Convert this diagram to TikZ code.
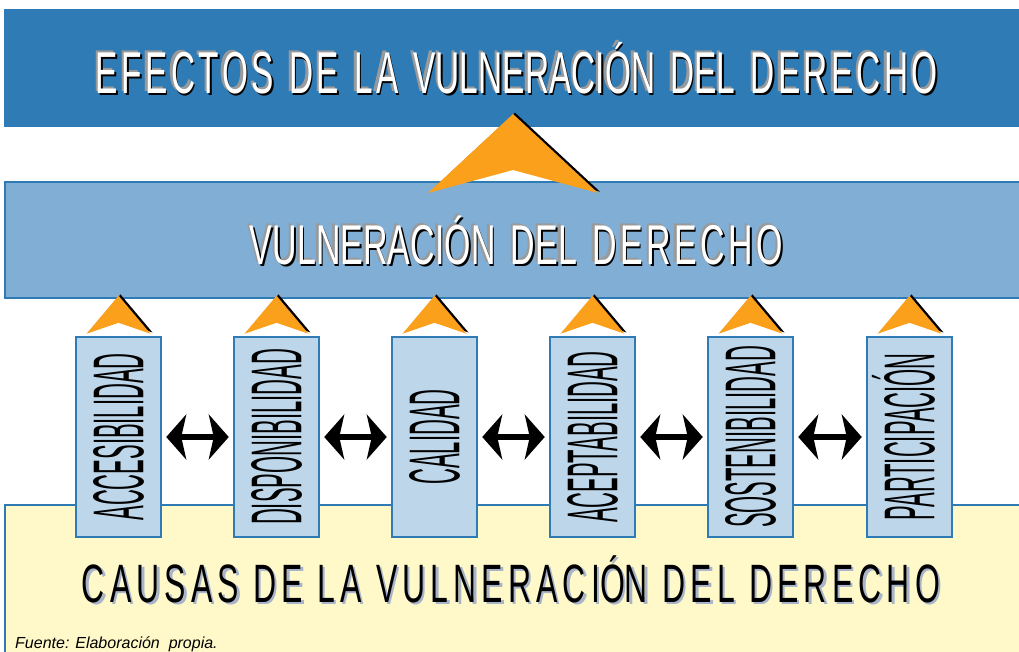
\documentclass[tikz,border=0pt]{standalone}
\usepackage{fontspec}
\usepackage{graphicx}
\setmainfont{Liberation Sans}
\usetikzlibrary{arrows.meta,calc}
\definecolor{darkband}{HTML}{2E7BB6}
\definecolor{midband}{HTML}{80AED4}
\definecolor{boxfill}{HTML}{BDD6EA}
\definecolor{causefill}{HTML}{FFF9C9}
\definecolor{chev}{HTML}{FBA01A}
\definecolor{causeshadow}{HTML}{A8B4CA}
\definecolor{titleshadow}{HTML}{9A9A9A}
\newcommand\ls{\hspace{0.1em}}
\newcommand\ws{\hspace{0.45em}}
\newcommand\efectostext{\resizebox{842pt}{\height}{\fontsize{59}{59}\selectfont E\ls F\ls E\ls C\ls T\ls O\ls S\ws D\ls E\ws L\ls A\ws VULNERACI\smash{Ó}N\ws DEL\ws D\ls E\ls R\ls E\ls C\ls H\ls O}}
\newcommand\vulntext{\resizebox{533pt}{\height}{\fontsize{56}{56}\selectfont VULNERACI\smash{Ó}N\ws DEL\ws D\ls E\ls R\ls E\ls C\ls H\ls O}}
\newcommand\causastext{\resizebox{858pt}{\height}{\fontsize{54}{54}\selectfont\addfontfeature{LetterSpace=16}CAUSAS\ws DE\ws LA\ws VULNERACI\smash{Ó}N\ws DEL\ws DERECHO}}
\newcommand\ptext[1]{\scalebox{0.305}[1]{\fontsize{72}{72}\selectfont #1}}
\newcommand\chevdraw[4]{%
  \begin{scope}[shift={#1}]
    \fill[black] (2,-1.3) -- ++(#2,#3) -- ++(-#2,{#4-#3}) -- ++(-#2,{#3-#4}) -- cycle;
    \fill[chev] (0,0) -- ++(#2,#3) -- ++(-#2,{#4-#3}) -- ++(-#2,{#3-#4}) -- cycle;
  \end{scope}}
\tikzset{
  band/.style={inner sep=0pt, outer sep=0pt, anchor=north west},
  pillar/.style={draw=darkband, line width=2.5pt, fill=boxfill, minimum width=85pt, minimum height=200pt, inner sep=0pt},
  biarrow/.style={line width=6.5pt, {Stealth[length=20pt,width=45pt,inset=5pt]}-{Stealth[length=20pt,width=45pt,inset=5pt]}, shorten <=4pt, shorten >=4pt},
  ptxt/.style={rotate=90, inner sep=0pt},
}
\begin{document}
\begin{tikzpicture}[x=1pt,y=-1pt]
\useasboundingbox (0,0) rectangle (1019,652);
\clip (0,0) rectangle (1019,652);
% bands
\node[band, fill=darkband, minimum width=1021pt, minimum height=118pt] (effects) at (4,9) {};
\node[band, fill=midband, draw=darkband, line width=2pt, minimum width=1020pt, minimum height=116pt] (vuln) at (5,182) {};
\node[band, fill=causefill, draw=darkband, line width=2pt, minimum width=1020pt, minimum height=160pt] (causes) at (5,505) {};
% big chevron
\chevdraw{(513,114)}{85}{79}{56}
% pillars
\foreach \i/\x in {1/118.5,2/276.5,3/434.5,4/592.5,5/750.5,6/909.5}{
  \node[pillar] (b\i) at (\x,437) {};
  \chevdraw{($(b\i.north)+(0,-40)$)}{32}{38}{27}
}
\node[ptxt] (l1) at (b1) {\ptext{ACCESIBILIDAD}};
\node[ptxt] (l2) at (b2) {\ptext{DISPONIBILIDAD}};
\node[ptxt] (l3) at (b3) {\ptext{CALIDAD}};
\node[ptxt] (l4) at (b4) {\ptext{ACEPTABILIDAD}};
\node[ptxt] (l5) at (b5) {\ptext{SOSTENIBILIDAD}};
\node[ptxt] (l6) at (b6) {\ptext{PARTICIPACI\smash{Ó}N}};
% arrows
\draw[biarrow] (b1) -- (b2);
\draw[biarrow] (b2) -- (b3);
\draw[biarrow] (b3) -- (b4);
\draw[biarrow] (b4) -- (b5);
\draw[biarrow] (b5) -- (b6);
% titles
\node[anchor=base, inner sep=0pt, titleshadow] (t1g) at (514.5,91.5) {\efectostext};
\node[anchor=base, inner sep=0pt, black] (t1k) at (518.5,95.5) {\efectostext};
\node[anchor=base, inner sep=0pt, white] (t1) at (517,94) {\efectostext};
\node[anchor=base, inner sep=0pt, titleshadow] (t2g) at (514,262.5) {\vulntext};
\node[anchor=base, inner sep=0pt, black] (t2k) at (518,266.5) {\vulntext};
\node[anchor=base, inner sep=0pt, white] (t2) at (516.5,265) {\vulntext};
\node[anchor=base, inner sep=0pt, causeshadow] (t3s) at (513.5,604.5) {\causastext};
\node[anchor=base, inner sep=0pt, black] (t3) at (511,602) {\causastext};
\node[anchor=base west, inner sep=0pt] (src) at (15,648) {\fontsize{16}{16}\selectfont\itshape Fuente: Elaboración\ \ propia.};
\end{tikzpicture}
\end{document}
